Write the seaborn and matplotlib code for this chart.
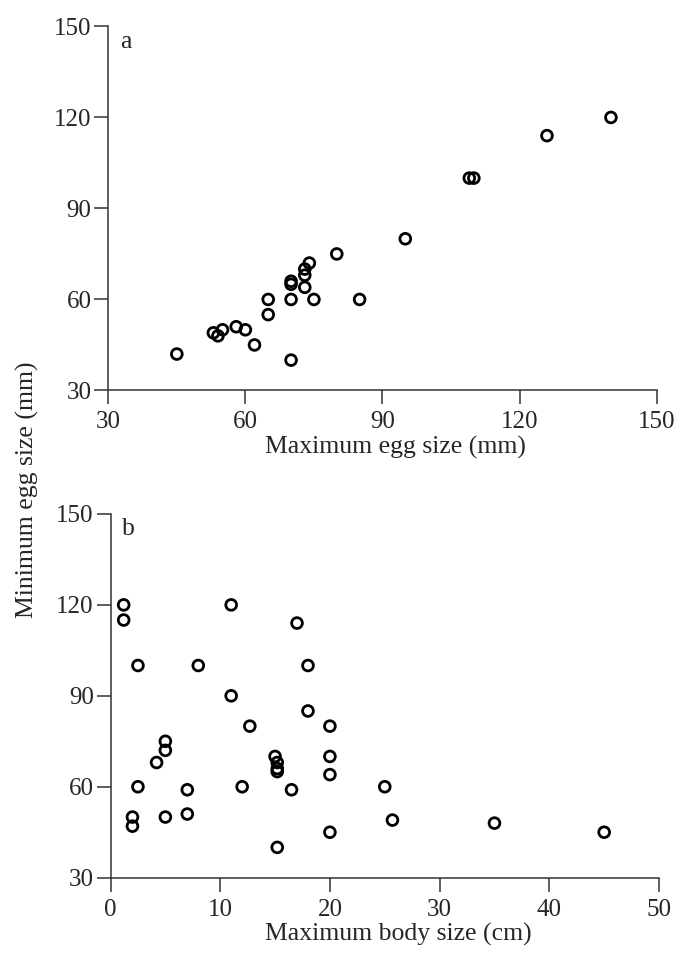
import matplotlib
matplotlib.use("Agg")
import matplotlib.pyplot as plt
import seaborn as sns
import pandas as pd

# Panel a: maximum vs minimum egg size (mm)
max_egg = [45, 53, 54, 55, 58, 60, 62, 65, 65, 70, 70, 70, 70, 73, 73, 73, 74, 75,
           80, 85, 95, 109, 110, 126, 140]
min_egg_a = [42, 49, 48, 50, 51, 50, 45, 60, 55, 60, 66, 65, 40, 70, 68, 64, 72, 60,
             75, 60, 80, 100, 100, 114, 120]

# Panel b: maximum body size (cm) vs minimum egg size (mm)
max_body = [1.2, 1.2, 2.5, 2.5, 2, 2, 4.2, 5, 5, 5, 7, 7, 8, 11, 11, 12, 12.7, 15, 15.2,
            15.2, 15.2, 15.2, 16.5, 17, 18, 18, 20, 20, 20, 20, 25, 25.7, 35, 45]
min_egg_b = [120, 115, 100, 60, 50, 47, 68, 75, 72, 50, 59, 51, 100, 120, 90, 60, 80, 70,
             68, 66, 65, 40, 59, 114, 100, 85, 80, 70, 64, 45, 60, 49, 48, 45]

ticks_a = [30, 60, 90, 120, 150]
ticks_b_x = [0, 10, 20, 30, 40, 50]
ticks_y = [30, 60, 90, 120, 150]

sns.set_theme(style="ticks")
plt.rcParams["font.family"] = ["Liberation Serif", "DejaVu Serif"]

fig = plt.figure(figsize=(6.78, 9.61), dpi=100)
ax1 = fig.add_axes([0.1597, 0.5937, 0.8088, 0.3788])
ax2 = fig.add_axes([0.1630, 0.0867, 0.8090, 0.3785])

dfa = pd.DataFrame({"x": max_egg, "y": min_egg_a})
dfb = pd.DataFrame({"x": max_body, "y": min_egg_b})

kw = dict(marker="o", s=60, facecolor="none", edgecolor="black", linewidth=2.0,
          clip_on=False, zorder=3)
sns.scatterplot(data=dfa, x="x", y="y", ax=ax1, **kw)
sns.scatterplot(data=dfb, x="x", y="y", ax=ax2, **kw)

for ax, xt, xlabel, tag in [(ax1, ticks_a, "Maximum egg size (mm)", "a"),
                            (ax2, ticks_b_x, "Maximum body size (cm)", "b")]:
    ax.set_xlim(xt[0], xt[-1])
    ax.set_ylim(ticks_y[0], ticks_y[-1])
    ax.set_xticks(xt)
    ax.set_yticks(ticks_y)
    ax.set_xlabel(xlabel, fontsize=18.5, labelpad=4)
    ax.xaxis.set_label_coords(0.524, -0.125)
    ax.set_ylabel("")
    for side in ["top", "right"]:
        ax.spines[side].set_visible(False)
    for side in ["left", "bottom"]:
        ax.spines[side].set_linewidth(1.1)
        ax.spines[side].set_color("#333333")
    ax.tick_params(axis="both", labelsize=18, length=10, width=1.1, color="#333333",
                   direction="out", pad=2)
    ax.tick_params(axis="x", pad=5)
    ax.text(0.021, 0.942, tag, transform=ax.transAxes, fontsize=18.5,
            va="baseline", ha="left")

fig.text(0.04, 0.49, "Minimum egg size (mm)", rotation=90, fontsize=18.5,
         va="center", ha="center")

fig.savefig("out.png", dpi=100, facecolor="white")
